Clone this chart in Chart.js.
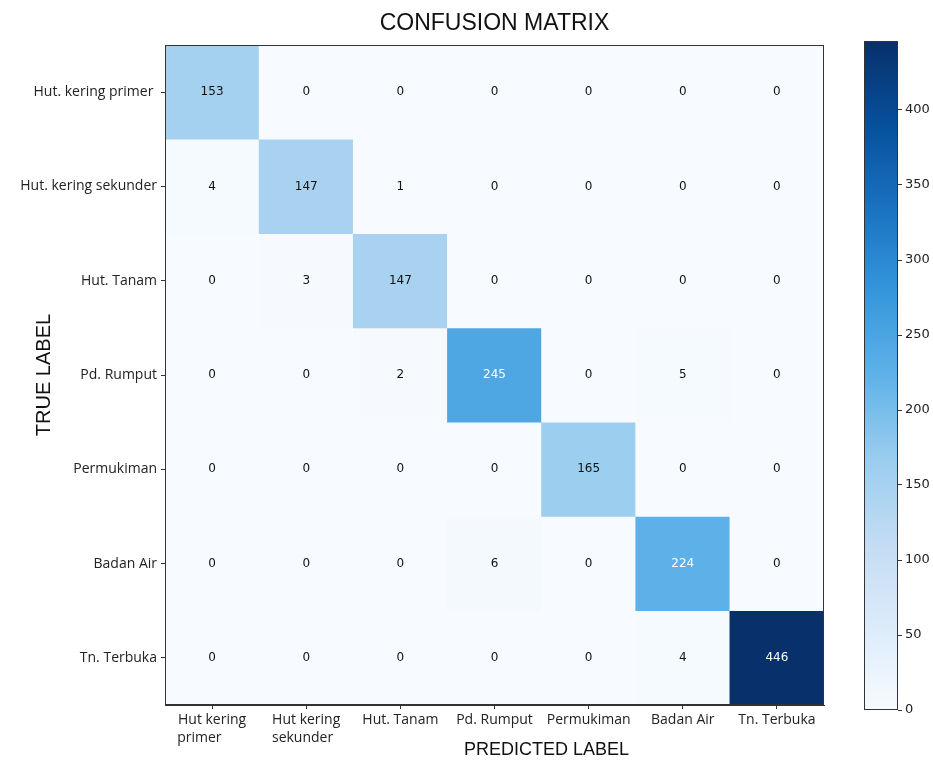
<!DOCTYPE html>
<html><head><meta charset="utf-8">
<script src="https://cdn.jsdelivr.net/npm/chart.js@4.4.1/dist/chart.umd.min.js"></script>
<style>
html,body{margin:0;padding:0;background:#fff;overflow:hidden}
#main{position:absolute;left:0;top:0}
#cbar{position:absolute;left:840px;top:0}
</style></head><body>
<canvas id="main" width="850" height="760"></canvas>
<canvas id="cbar" width="93" height="760"></canvas>
<script>
// ---- data ----
const chartTitle = 'CONFUSION MATRIX';
const xAxisTitle = 'PREDICTED LABEL';
const yAxisTitle = 'TRUE LABEL';
const trueLabels = ['Hut. kering primer ', 'Hut. kering sekunder', 'Hut. Tanam', 'Pd. Rumput', 'Permukiman', 'Badan Air', 'Tn. Terbuka'];
const predLabels = [['Hut kering', 'primer       '], ['Hut kering', 'sekunder  '], 'Hut. Tanam', 'Pd. Rumput', 'Permukiman', 'Badan Air', 'Tn. Terbuka'];
const rowHutKeringPrimer   = [153, 0, 0, 0, 0, 0, 0];
const rowHutKeringSekunder = [4, 147, 1, 0, 0, 0, 0];
const rowHutTanam          = [0, 3, 147, 0, 0, 0, 0];
const rowPdRumput          = [0, 0, 2, 245, 0, 5, 0];
const rowPermukiman        = [0, 0, 0, 0, 165, 0, 0];
const rowBadanAir          = [0, 0, 0, 6, 0, 224, 0];
const rowTnTerbuka         = [0, 0, 0, 0, 0, 4, 446];
const colorbarTicks = [0, 50, 100, 150, 200, 250, 300, 350, 400];

const matrix = [rowHutKeringPrimer, rowHutKeringSekunder, rowHutTanam, rowPdRumput, rowPermukiman, rowBadanAir, rowTnTerbuka];
const vmax = Math.max(...matrix.flat());
const thresh = vmax / 2;

// ---- colormap (Blues-like) ----
const blueStops = ['#f7fbff', '#dcebfa', '#c2dcf3', '#9acdef', '#5fb2e8', '#3596dc', '#1a72c0', '#07509c', '#08306b'];
function hexRgb(h) { return [parseInt(h.slice(1,3),16), parseInt(h.slice(3,5),16), parseInt(h.slice(5,7),16)]; }
function blues(t) {
  t = Math.max(0, Math.min(1, t));
  const p = t * (blueStops.length - 1);
  const i = Math.min(Math.floor(p), blueStops.length - 2);
  const f = p - i;
  const a = hexRgb(blueStops[i]), b = hexRgb(blueStops[i + 1]);
  const c = a.map((v, k) => Math.round(v + (b[k] - v) * f));
  return 'rgb(' + c.join(',') + ')';
}

const frameBox = {
  id: 'frameBox',
  afterDatasetsDraw(chart) {
    const ctx = chart.ctx;
    const a = chart.chartArea;
    ctx.save();
    ctx.strokeStyle = '#333';
    ctx.lineWidth = 1;
    ctx.strokeRect(Math.round(a.left) + 0.5, Math.round(a.top) + 0.5, Math.round(a.right - a.left) - 1, Math.round(a.bottom - a.top) - 1);
    ctx.restore();
  }
};

const cellText = {
  id: 'cellText',
  afterDatasetsDraw(chart) {
    const ctx = chart.ctx;
    ctx.save();
    ctx.font = '12px "DejaVu Sans"';
    ctx.textAlign = 'center';
    ctx.textBaseline = 'middle';
    chart.data.datasets.forEach((ds, r) => {
      const meta = chart.getDatasetMeta(r);
      meta.data.forEach((el, c) => {
        const v = ds.values[c];
        ctx.fillStyle = v > thresh ? '#ffffff' : '#111111';
        ctx.fillText(String(v), el.x, (el.y + el.base) / 2);
      });
    });
    ctx.restore();
  }
};

const xTitlePlugin = {
  id: 'xTitlePlugin',
  afterDraw(chart) {
    const ctx = chart.ctx;
    const a = chart.chartArea;
    ctx.save();
    ctx.font = '18px "Liberation Sans"';
    ctx.fillStyle = '#111';
    ctx.textAlign = 'center';
    ctx.textBaseline = 'middle';
    ctx.fillText(xAxisTitle, (a.left + a.right) / 2 + 52, 750);
    ctx.restore();
  }
};

new Chart(document.getElementById('main'), {
  type: 'bar',
  data: {
    labels: predLabels,
    datasets: matrix.map((row, r) => ({
      label: trueLabels[r],
      values: row,
      data: row.map(() => [r, r + 1]),
      backgroundColor: row.map(v => blues(v / vmax)),
      borderWidth: 0,
      grouped: false,
      barPercentage: 1,
      categoryPercentage: 1
    }))
  },
  options: {
    responsive: false,
    animation: false,
    layout: { padding: { left: 0, right: 26, top: 0, bottom: 0 } },
    plugins: {
      legend: { display: false },
      tooltip: { enabled: false },
      title: {
        display: true, text: chartTitle, fullSize: false, color: '#111',
        font: { family: 'Liberation Sans', size: 23, weight: 'normal', lineHeight: 1.2 },
        padding: { top: 10, bottom: 7.4 }
      }
    },
    scales: {
      x: {
        type: 'category',
        grid: { display: true, offset: false, drawOnChartArea: false, drawTicks: true, tickLength: 4, color: '#333' },
        border: { display: true, color: '#333' },
        ticks: { color: '#222', font: { family: 'Open Sans', size: 14, lineHeight: 1.3 }, padding: 2, maxRotation: 0, autoSkip: false },
        afterFit: s => { s.height = 55; }
      },
      y: {
        type: 'linear', min: 0, max: 7, reverse: true,
        afterBuildTicks: s => { s.ticks = trueLabels.map((_, i) => ({ value: i + 0.5 })); },
        grid: { display: true, drawOnChartArea: false, drawTicks: true, tickLength: 4, color: '#333' },
        border: { display: true, color: '#333' },
        ticks: { color: '#222', font: { family: 'Open Sans', size: 14 }, padding: 4, callback: v => trueLabels[Math.floor(v)] },
        title: { display: true, text: yAxisTitle, color: '#111', font: { family: 'Liberation Sans', size: 20, lineHeight: 1.2 }, padding: { top: 32, bottom: 0 } },
        afterFit: s => { s.width = 165; }
      }
    }
  },
  plugins: [cellText, frameBox, xTitlePlugin]
});

new Chart(document.getElementById('cbar'), {
  type: 'bar',
  data: {
    labels: [''],
    datasets: [{
      data: [[0, vmax]],
      backgroundColor: c => {
        const ch = c.chart;
        if (!ch.chartArea || !ch.scales.y) return blueStops[0];
        const y0 = ch.scales.y.getPixelForValue(0), y1 = ch.scales.y.getPixelForValue(vmax);
        const g = ch.ctx.createLinearGradient(0, y0, 0, y1);
        blueStops.forEach((s, i) => g.addColorStop(i / (blueStops.length - 1), s));
        return g;
      },
      borderWidth: 0,
      barPercentage: 1, categoryPercentage: 1
    }]
  },
  options: {
    responsive: false,
    animation: false,
    layout: { padding: { left: 24, top: 41, bottom: 50, right: 0 } },
    plugins: { legend: { display: false }, tooltip: { enabled: false } },
    scales: {
      x: { display: false },
      y: {
        position: 'right', min: 0, max: vmax,
        afterBuildTicks: s => { s.ticks = colorbarTicks.map(v => ({ value: v })); },
        grid: { display: true, drawOnChartArea: false, drawTicks: true, tickLength: 4, color: '#333' },
        border: { display: false },
        ticks: { color: '#222', padding: 3, font: { family: 'DejaVu Sans', size: 13 } },
        afterFit: s => { s.width = 35; }
      }
    }
  },
  plugins: [frameBox]
});
</script>
</body></html>
